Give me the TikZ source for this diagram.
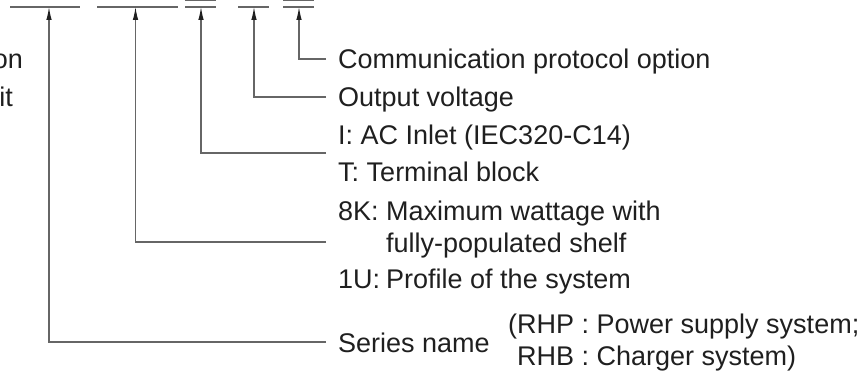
\documentclass[tikz,border=0pt]{standalone}
\usepackage{fontspec}
\setmainfont{Liberation Sans}
\usetikzlibrary{arrows.meta}
\colorlet{ink}{black!88}
\colorlet{wire}{black!60}
\tikzset{>={Latex[length=13pt,width=5.5pt,color=ink]}}
\tikzset{
  desc/.style = {anchor=west, inner xsep=12pt, inner ysep=0pt,
    text height=20pt, text depth=0pt, text=ink,
    font=\fontsize{27}{32}\selectfont},
  wire/.style = {draw=wire, line width=1.1pt}
}
\newcommand{\code}[1]{\makebox[48pt][l]{#1}}

\begin{document}
\begin{tikzpicture}[x=1pt,y=-1pt]
  \useasboundingbox (0,0) rectangle (866,374);
  % bars of the model number
  \draw[wire] (10,7) -- (80,7);
  \draw[wire] (97,7) -- (178,7);
  \draw[wire] (185,7) -- (216,7) (185,0) -- (216,0);
  \draw[wire] (238,7) -- (269,7);
  \draw[wire] (283,7) -- (314,7) (283,0) -- (314,0);
  \coordinate (b1) at (49,7);
  \coordinate (b2) at (135.5,7);
  \coordinate (b3) at (201,7);
  \coordinate (b4) at (254,7);
  \coordinate (b5) at (299,7);
  % cut text on the left
  \node[desc,anchor=east,inner xsep=0pt] (cutA) at (23,59) {on};
  \node[desc,anchor=east,inner xsep=0pt] (cutB) at (13,97) {it};
  % meanings
  \node[desc] (comm) at (326,59) {Communication protocol option};
  \node[desc] (volt) at (326,97) {Output voltage};
  \node[desc] (inlet) at (326,135) {I: AC Inlet (IEC320-C14)};
  \node[desc] (term) at (326,172) {T: Terminal block};
  \coordinate (plug) at (326,153);
  \node[desc] (watt) at (326,210) {\code{8K:}Maximum wattage with};
  \node[desc] (shelf) at (326,242) {\code{}fully-populated shelf};
  \node[desc] (prof) at (326,278) {\code{1U:}Profile of the system};
  \node[desc] (series) at (326,342) {Series name};
  \node[desc] (rhp) at (496,323) {(RHP : Power supply system;};
  \node[desc] (rhb) at (496,355) {\phantom{(}RHB : Charger system)};
  % connectors
  \draw[wire,->] (comm.west) -| (b5);
  \draw[wire,->] (volt.west) -| (b4);
  \draw[wire,->] (plug) -| (b3);
  \draw[wire,->] (shelf.west) -| (b2);
  \draw[wire,->] (series.west) -| (b1);
\end{tikzpicture}
\end{document}
